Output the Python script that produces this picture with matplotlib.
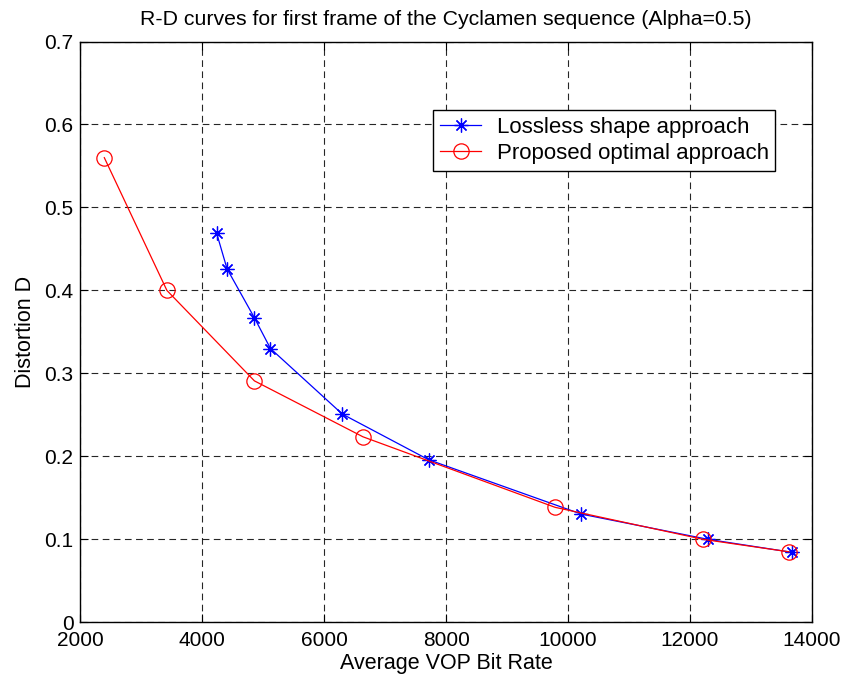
import matplotlib
matplotlib.use("Agg")
import matplotlib.pyplot as plt

# Rate-distortion samples
lossless_rate = [4234, 4405, 4854, 5117, 6296, 7711, 10215, 12299, 13681]
lossless_dist = [0.469, 0.426, 0.367, 0.330, 0.251, 0.196, 0.1305, 0.100, 0.0843]

optimal_rate = [2391, 3418, 4854, 6635, 9788, 12217, 13625]
optimal_dist = [0.560, 0.400, 0.291, 0.2236, 0.1386, 0.100, 0.085]

x_ticks = [2000, 4000, 6000, 8000, 10000, 12000, 14000]
y_ticks = [0, 0.1, 0.2, 0.3, 0.4, 0.5, 0.6, 0.7]

plt.rcParams['font.family'] = ['Liberation Sans', 'DejaVu Sans']

fig = plt.figure(figsize=(8.49, 6.86), dpi=100)
ax = fig.add_axes([0.0948, 0.0928, 0.8614, 0.8467])

# asterisk made of 8 spokes
star = (8, 2, 0)
ax.plot(lossless_rate, lossless_dist, color='blue', marker=star, markersize=10,
        linewidth=0.9, markeredgewidth=0.9, label='Lossless shape approach')
ax.plot(optimal_rate, optimal_dist, color='red', marker='o', markersize=11,
        markerfacecolor='none', linewidth=0.9, markeredgewidth=0.9,
        label='Proposed optimal approach')

ax.set_xlim(2000, 14000)
ax.set_ylim(0, 0.7)
ax.set_xticks(x_ticks)
ax.set_xticklabels([str(v) for v in x_ticks])
ax.set_yticks(y_ticks)
ax.set_yticklabels(['0', '0.1', '0.2', '0.3', '0.4', '0.5', '0.6', '0.7'])

ax.grid(True, color='black', linestyle=(0, (6, 4)), linewidth=0.8, alpha=0.85)
ax.set_axisbelow(True)

ax.tick_params(direction='in', length=6, width=0.8, top=True, right=True,
               labelsize=15)
ax.tick_params(axis='x', pad=6.5)
ax.tick_params(axis='y', pad=5)
for s in ax.spines.values():
    s.set_linewidth(1.0)

ax.set_xlabel('Average VOP Bit Rate', fontsize=15.5, labelpad=2)
ax.set_ylabel('Distortion D', fontsize=15.5, labelpad=6)
ax.set_title('R-D curves for first frame of the Cyclamen sequence (Alpha=0.5)',
             fontsize=15.3, pad=12)

leg = ax.legend(loc='upper left', bbox_to_anchor=(0.4825, 0.882),
                fontsize=16, frameon=True, fancybox=False, shadow=False,
                edgecolor='black', framealpha=1, borderpad=0.3,
                labelspacing=0.25, handlelength=1.85, handletextpad=0.7,
                borderaxespad=0)
leg.get_frame().set_linewidth(1.0)

fig.savefig('out.png', dpi=100)
